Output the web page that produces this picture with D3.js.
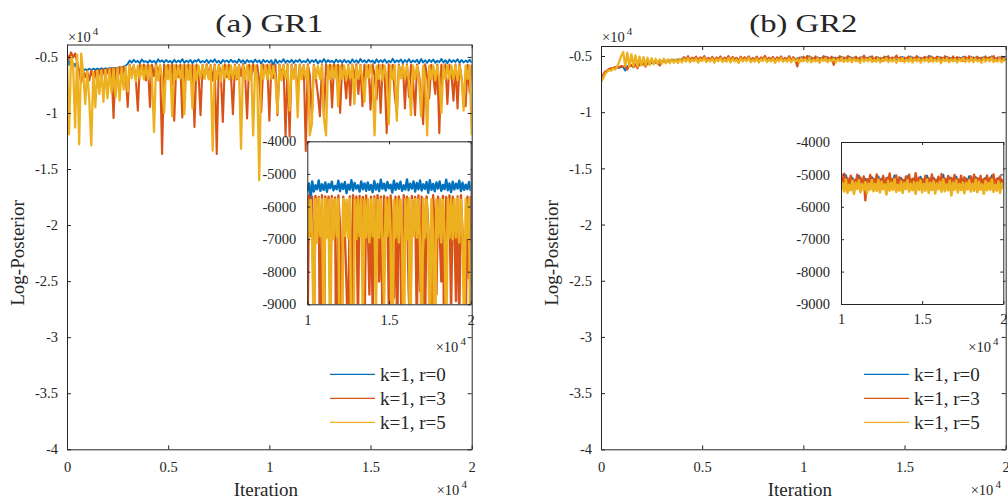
<!DOCTYPE html>
<html><head><meta charset="utf-8">
<script src="https://cdn.jsdelivr.net/npm/d3@7"></script>
<style>
body{margin:0;background:#fff}
svg{display:block}
text{font-family:"Liberation Serif","Times New Roman",serif;fill:#262626}
</style>
</head><body>
<svg id="c" width="1008" height="502"></svg>
<script>
// ---------- data ----------
const iterations = d3.range(0, 20001, 100);
const seriesNames = ["k=1, r=0", "k=1, r=3", "k=1, r=5"];
const panelTitles = ["(a) GR1", "(b) GR2"];
const xTickValues = [0, 5000, 10000, 15000, 20000];
const xTickLabels = ["0", "0.5", "1", "1.5", "2"];
const yTickValues = [-5000, -10000, -15000, -20000, -25000, -30000, -35000, -40000];
const yTickLabels = ["-0.5", "-1", "-1.5", "-2", "-2.5", "-3", "-3.5", "-4"];
const insetXTickValues = [10000, 15000, 20000];
const insetXTickLabels = ["1", "1.5", "2"];
const insetYTickValues = [-4000, -5000, -6000, -7000, -8000, -9000];
const insetYTickLabels = ["-4000", "-5000", "-6000", "-7000", "-8000", "-9000"];

const gr1Blue = [-4950,-5700,-5150,-5950,-5600,-6050,
-6180,-6080,-6220,-6100,-6200,-6060,-6170,-6050,-6160,-6040,-6140,-6020,-6130,-6010,-6110,-5990,-6090,-5980,-6070,-5960,-6040,-5900,-5980,-5780,-5620,
-5320,-5510,-5260,-5470,-5350,-5560,-5240,-5450,-5380,-5530,
-5290,-5480,-5340,-5570,-5220,-5440,-5310,-5500,-5270,-5460,
-5360,-5540,-5250,-5490,-5330,-5470,-5200,-5520,-5340,-5450,
-5280,-5560,-5310,-5430,-5230,-5500,-5370,-5480,-5260,-5540,
-5300,-5460,-5220,-5510,-5350,-5580,-5270,-5440,-5320,-5500,
-5250,-5470,-5360,-5530,-5210,-5490,-5300,-5560,-5280,-5450,
-5340,-5520,-5240,-5480,-5310,-5600,-5260,-5460,-5330,-5510,
-5290,-5780,-5230,-5540,-5350,-5470,-5200,-5520,-5320,-5490,
-5260,-5550,-5310,-5440,-5240,-5500,-5370,-5470,-5210,-5530,
-5300,-5460,-5250,-5590,-5330,-5480,-5190,-5510,-5280,-5450,
-5350,-5540,-5230,-5470,-5290,-5520,-5260,-5490,-5340,-5560,
-5220,-5480,-5310,-5530,-5180,-5460,-5300,-5510,-5250,-5440,
-5330,-5570,-5210,-5490,-5290,-5460,-5240,-5520,-5350,-5480,
-5170,-5500,-5300,-5450,-5230,-5540,-5280,-5470,-5200,-5510,
-5320,-5460,-5250,-5580,-5190,-5490,-5310,-5530,-5260,-5450,
-5230,-5520,-5340,-5470,-5180,-5500,-5290,-5560,-5240,-5480,
-5300,-5450,-5210,-5530,-5270,-5490,-5330,-5470,-5250,-5520];

const gr1Orange = [-4750,-5200,-4600,-5050,-4700,-5400,
-6300,-7300,-6250,-6800,-6300,-7100,-6200,-6900,-6250,-7400,-6150,-6700,-6100,-7000,-6050,-6600,-6000,-10450,-6000,-6800,-5900,-7200,-5850,-6600,-9460,
-5700,-6600,-5750,-6900,-9800,-5700,-6500,-5680,-7100,-5720,
-9460,-5700,-6700,-5660,-6400,-5750,-13660,-5680,-6900,-5700,
-6500,-5650,-10690,-5720,-6800,-5690,-10400,-5700,-6600,-5660,
-7000,-5710,-11250,-5680,-6500,-10200,-5700,-6900,-5650,-6600,
-5720,-7100,-5690,-13660,-5700,-6400,-10800,-5660,-6800,-5710,
-6500,-10100,-5680,-7000,-5700,-6700,-5640,-6500,-10500,-5700,
-6800,-5670,-6600,-5720,-7100,-9900,-5690,-6400,-5700,-10700,
-5660,-6900,-5700,-10200,-5680,-6600,-5710,-12100,-5650,-12100,
-5690,-6700,-5700,-8600,-5680,-6800,-5720,-13400,-5660,-6600,
-10500,-5700,-6900,-8400,-10300,-5690,-10300,-5650,-6700,-5700,
-9500,-5680,-6800,-5710,-10000,-5660,-6500,-8700,-5700,-9300,
-5690,-6900,-5650,-8300,-5700,-9400,-5680,-6700,-5720,-9700,
-5660,-6600,-8800,-5700,-10000,-5690,-6800,-11800,-5650,-6900,
-5700,-8500,-10000,-5680,-6700,-5710,-9600,-5660,-8600,-5700,
-6900,-10200,-5690,-6600,-8400,-11000,-5650,-6800,-8700,-5700,
-6700,-8300,-5680,-11800,-5710,-6900,-5660,-9200,-5700,-6600,
-8900,-5690,-9600,-5650,-6800,-8500,-9400,-5700,-8200,-5680];

const gr1Yellow = [-4900,-11900,-5000,-5600,-11300,-4800,-12800,-4700,
-6400,-9200,-6300,-8800,-12900,-6350,-9500,-6250,-8300,-6200,-9000,-6150,-8700,-6100,-8200,-6050,-8600,-6000,-8900,-5950,-7900,-5900,-8100,
-5750,-6900,-5800,-7200,-5780,-6900,-5760,-7000,-5800,-6950,
-5770,-6800,-11700,-5790,-7100,-5760,-6900,-10000,-5800,-7000,
-5780,-10300,-5760,-7000,-5800,-6900,-5770,-10100,-5790,-7050,
-5760,-9600,-5800,-7100,-5780,-6900,-5750,-6950,-5790,-7000,
-5770,-13370,-5800,-6950,-5760,-7200,-5790,-6900,-5780,-7000,
-5750,-7000,-5800,-6900,-5770,-13200,-5790,-6950,-5760,-7100,
-5800,-12000,-5780,-6900,-16000,-5770,-6950,-5790,-7000,-5760,
-6950,-5800,-6900,-10000,-5780,-7100,-5750,-6900,-5790,-9800,
-5770,-6950,-5800,-10400,-5760,-7000,-5790,-6900,-5780,-12000,
-11000,-5770,-6900,-5800,-6950,-5760,-10500,-12000,-5790,-7000,
-5780,-6900,-5750,-9400,-5800,-6950,-5770,-7100,-5790,-6900,
-5760,-9200,-5800,-6950,-5780,-7000,-9000,-5790,-6900,-5770,
-6900,-12000,-5800,-6950,-5760,-7100,-5790,-6900,-11000,-5780,
-7000,-5750,-10700,-5800,-6900,-5770,-6950,-5790,-7200,-10200,
-5760,-6950,-5800,-7000,-10300,-5780,-6900,-12000,-5790,-6950,
-5770,-7100,-5800,-6900,-10000,-5760,-6950,-5790,-7000,-5780,
-6950,-5750,-7100,-5800,-6900,-9800,-5770,-6950,-5790,-12000];

const gr2Blue = [-7300,-6800,-6500,-6350,-6200,-6150,-6100,-6050,-6000,-6050,-5950,-6000,-6300,-5900,-5850,-5900,-5800,-5850,-5750,-5800,-5700,
-5750,-5650,-5700,-5600,-5650,-5550,-5600,-5500,-5550,-5450,-5500,-5420,-5480,-5380,-5450,-5350,-5420,-5300,-5400,-5280,
-5150,-5380,-5080,-5420,-5200,-5350,-5100,-5440,-5180,-5320,
-5060,-5400,-5220,-5360,-5120,-5450,-5170,-5330,-5090,-5410,
-5190,-5370,-5050,-5430,-5140,-5340,-5210,-5460,-5110,-5390,
-5160,-5350,-5070,-5420,-5230,-5380,-5100,-5440,-5180,-5310,
-5040,-5400,-5200,-5360,-5130,-5470,-5160,-5330,-5080,-5410,
-5210,-5380,-5060,-5430,-5150,-5350,-5190,-5450,-5100,-5370,
-5170,-5340,-5030,-5420,-5220,-5390,-5110,-5460,-5180,-5320,
-5050,-5410,-5200,-5360,-5140,-5440,-5160,-5350,-5090,-5400,
-5190,-5370,-5070,-5430,-5130,-5330,-5210,-5470,-5100,-5380,
-5160,-5350,-5040,-5410,-5230,-5390,-5120,-5440,-5170,-5320,
-5060,-5400,-5200,-5370,-5140,-5460,-5150,-5340,-5080,-5420,
-5200,-5360,-5050,-5430,-5160,-5380,-5110,-5450,-5190,-5330,
-5130,-5410,-5020,-5390,-5220,-5350,-5100,-5470,-5170,-5340,
-5080,-5420,-5190,-5360,-5150,-5440,-5130,-5380,-5060,-5410,
-5210,-5350,-5090,-5430,-5140,-5370,-5180,-5460,-5110,-5390,
-5160,-5400,-5040,-5420,-5200,-5340,-5120,-5450,-5170,-5380];

const gr2Orange = [-7200,-6700,-6400,-6300,-6150,-6100,-6050,-6000,-5950,-6000,-5900,-5950,-5900,-6200,-5850,-5800,-6000,-5750,-6100,-5700,-5750,
-5650,-5950,-5600,-5700,-5550,-5650,-5500,-5600,-5850,-5500,-5450,-5550,-5400,-5500,-5380,-5480,-5350,-5450,-5300,-5420,
-5100,-5330,-5020,-5380,-5150,-5290,-5060,-5400,-5120,-5280,
-5000,-5350,-5170,-5310,-5070,-5420,-5130,-5270,-5040,-5360,
-5140,-5320,-5010,-5390,-5090,-5300,-5160,-5430,-5060,-5340,
-5110,-5290,-5030,-5370,-5180,-5330,-5050,-5400,-5130,-5260,
-4990,-5350,-5150,-5310,-5080,-5440,-5110,-5280,-5030,-5370,
-5160,-5330,-5020,-5380,-5100,-5300,-5940,-5140,-5410,-5060,
-5250,-4980,-5360,-5120,-5320,-5040,-5400,-5170,-5290,-5010,
-5380,-5100,-5330,-5060,-5800,-5150,-5300,-5020,-5390,-5130,
-5280,-5000,-5360,-5160,-5310,-5050,-5420,-5110,-5270,-4970,
-5350,-5140,-5320,-5030,-5400,-5090,-5290,-5170,-5430,-5060,
-5330,-5010,-5380,-5130,-5300,-4960,-5360,-5100,-5420,-5150,
-5280,-5040,-5370,-5120,-5310,-5000,-5390,-5160,-5270,-5070,
-5340,-4990,-5410,-5130,-5300,-5050,-5360,-5110,-5280,-5020,
-5380,-5150,-5320,-5040,-5400,-5090,-5290,-5160,-5430,-5060,
-5330,-5010,-5370,-5120,-5310,-5050,-5390,-5140,-5280,-5030,
-5350,-5100,-5320,-5000,-5410,-5130,-5300,-5060,-5370,-5150];

const gr2Yellow = [-7300,-7000,-6600,-6400,-6250,-6300,-6100,-6200,-5950,-5500,-5000,-4650,-5900,-4700,-5950,-4850,-5900,-4950,-5950,-5050,-5850,
-5100,-5850,-5150,-5800,-5200,-5750,-5250,-5700,-5300,-5700,-5250,-5650,-5300,-5650,-5280,-5600,-5300,-5620,-5250,-5580,
-5250,-5500,-5180,-5560,-5300,-5470,-5220,-5590,-5280,-5450,
-5160,-5530,-5320,-5480,-5210,-5600,-5270,-5460,-5190,-5540,
-5290,-5510,-5170,-5570,-5240,-5480,-5310,-5620,-5200,-5490,
-5260,-5470,-5150,-5550,-5330,-5500,-5220,-5580,-5280,-5440,
-5180,-5540,-5300,-5490,-5230,-5610,-5260,-5460,-5170,-5520,
-5310,-5500,-5190,-5560,-5250,-5480,-5290,-5590,-5210,-5470,
-5270,-5530,-5160,-5570,-5320,-5490,-5200,-5600,-5260,-5450,
-5190,-5550,-5300,-5480,-5240,-5580,-5280,-5470,-5180,-5520,
-5300,-5510,-5170,-5560,-5230,-5460,-5310,-5620,-5200,-5500,
-5260,-5480,-5150,-5540,-5320,-5500,-5220,-5570,-5270,-5450,
-5180,-5530,-5290,-5490,-5240,-5600,-5250,-5470,-5190,-5550,
-5300,-5500,-5170,-5570,-5260,-5480,-5210,-5590,-5280,-5460,
-5230,-5540,-5160,-5520,-5310,-5490,-5200,-5650,-5260,-5470,
-5190,-5560,-5300,-5480,-5250,-5580,-5270,-5460,-5180,-5530,
-5290,-5510,-5170,-5550,-5230,-5470,-5310,-5600,-5210,-5490,
-5260,-5480,-5160,-5540,-5320,-5500,-5220,-5570,-5280,-5450];

// ---------- style / layout ----------
const colors = ["#0072BD", "#D95319", "#EDB120"];
const mainWidths = [1.9, 2.1, 2.3];
const insetWidths = [2.4, 2.4, 2.6];
const axisColor = "#262626";
const svg = d3.select("#c");

const panels = [
  { off: 0, yTop: -3894, yTopPx: 44.5, series: [gr1Blue, gr1Orange, gr1Yellow], title: panelTitles[0],
    inset: { x0: 307.3, x1: 470.7, y0: 141.3, y1: 304.3 } },
  { off: 534, yTop: -4110, yTopPx: 46, series: [gr2Blue, gr2Orange, gr2Yellow], title: panelTitles[1],
    inset: { x0: 841, x1: 1003.3, y0: 142, y1: 304 } }
];

function styleAxis(g, fs) {
  g.selectAll(".domain").attr("stroke", axisColor).attr("stroke-width", 1);
  g.selectAll(".tick line").attr("stroke", axisColor).attr("stroke-width", 1);
  g.selectAll("text").attr("font-family", '"Liberation Serif","Times New Roman",serif')
    .attr("font-size", fs).attr("fill", axisColor);
  g.attr("font-family", null).attr("font-size", null);
}

function drawBox(g, x, y, xt, xl, yt, yl, tick, padX, padY, fs) {
  const [x0, x1] = x.range();
  const [yb, yt0] = y.range();
  const b = g.append("g").attr("transform", `translate(0,${yb})`)
    .call(d3.axisBottom(x).tickValues(xt).tickFormat((d, i) => xl[i]).tickSizeInner(-tick).tickSizeOuter(0).tickPadding(padX));
  styleAxis(b, fs);
  const t = g.append("g").attr("transform", `translate(0,${yt0})`)
    .call(d3.axisTop(x).tickValues(xt).tickFormat("").tickSizeInner(-tick).tickSizeOuter(0));
  styleAxis(t, fs);
  const l = g.append("g").attr("transform", `translate(${x0},0)`)
    .call(d3.axisLeft(y).tickValues(yt).tickFormat((d, i) => yl[i]).tickSizeInner(-tick).tickSizeOuter(0).tickPadding(padY));
  styleAxis(l, fs);
  const r = g.append("g").attr("transform", `translate(${x1},0)`)
    .call(d3.axisRight(y).tickValues(yt).tickFormat("").tickSizeInner(-tick).tickSizeOuter(0));
  styleAxis(r, fs);
}

function times10(g, x, y) {
  const t = g.append("text").attr("x", x).attr("y", y).attr("font-size", 14.5);
  t.append("tspan").text("\u00d710");
  t.append("tspan").attr("dx", 2).attr("dy", -7).attr("font-size", 11).text("4");
}

panels.forEach((p, pi) => {
  const X0 = 67 + p.off, X1 = 471.7 + p.off, YB = 449.3;
  const x = d3.scaleLinear().domain([0, 20000]).range([X0, X1]);
  const y = d3.scaleLinear().domain([-40000, p.yTop]).range([YB, p.yTopPx]);
  const g = svg.append("g");

  const cid = "clipMain" + pi;
  svg.append("clipPath").attr("id", cid).append("rect")
    .attr("x", X0).attr("y", p.yTopPx).attr("width", X1 - X0).attr("height", YB - p.yTopPx);

  const line = d3.line().x((d, i) => x(iterations[i])).y(d => y(d));
  const lg = g.append("g").attr("clip-path", `url(#${cid})`);
  p.series.forEach((s, si) => {
    lg.append("path").attr("d", line(s)).attr("fill", "none")
      .attr("stroke", colors[si]).attr("stroke-width", mainWidths[si]).attr("stroke-linejoin", "round");
  });

  drawBox(g, x, y, xTickValues, xTickLabels, yTickValues, yTickLabels, 4, 12, 9, 14.5);

  g.append("text").attr("x", (X0 + X1) / 2).attr("y", 31.5).attr("text-anchor", "middle")
    .attr("font-size", 26).attr("textLength", 108).attr("lengthAdjust", "spacingAndGlyphs").text(p.title);
  times10(g, X0 + 1, 41.5);
  times10(g, X1 - 35, 495);
  g.append("text").attr("x", (X0 + X1) / 2 - 3.5).attr("y", 496).attr("text-anchor", "middle")
    .attr("font-size", 19).text("Iteration");
  g.append("text").attr("transform", `translate(${X0 - 43},253) rotate(-90)`).attr("text-anchor", "middle")
    .attr("font-size", 19).text("Log-Posterior");

  const legX = 330 + p.off;
  seriesNames.forEach((n, i) => {
    const ly = 374.3 + i * 24;
    g.append("line").attr("x1", legX).attr("x2", legX + 45).attr("y1", ly).attr("y2", ly)
      .attr("stroke", colors[i]).attr("stroke-width", 1.2);
    g.append("text").attr("x", legX + 50).attr("y", ly + 7).attr("font-size", 19).text(n);
  });

  // inset
  const ins = p.inset;
  const xi = d3.scaleLinear().domain([10000, 20000]).range([ins.x0, ins.x1]);
  const yi = d3.scaleLinear().domain([-9000, -4000]).range([ins.y1, ins.y0]);
  const gi = svg.append("g");
  gi.append("rect").attr("x", ins.x0).attr("y", ins.y0).attr("width", ins.x1 - ins.x0)
    .attr("height", ins.y1 - ins.y0).attr("fill", "#fff");
  const icid = "clipInset" + pi;
  svg.append("clipPath").attr("id", icid).append("rect")
    .attr("x", ins.x0).attr("y", ins.y0).attr("width", ins.x1 - ins.x0).attr("height", ins.y1 - ins.y0);
  const iline = d3.line().defined((d, i) => iterations[i] >= 9900)
    .x((d, i) => xi(iterations[i])).y(d => yi(d));
  const ilg = gi.append("g").attr("clip-path", `url(#${icid})`);
  p.series.forEach((s, si) => {
    ilg.append("path").attr("d", iline(s)).attr("fill", "none")
      .attr("stroke", colors[si]).attr("stroke-width", insetWidths[si]).attr("stroke-linejoin", "round");
  });
  drawBox(gi, xi, yi, insetXTickValues, insetXTickLabels, insetYTickValues, insetYTickLabels, 3, 10, 11, 14.5);
  times10(gi, ins.x1 - 35, 351.5);
});
</script>
</body></html>
